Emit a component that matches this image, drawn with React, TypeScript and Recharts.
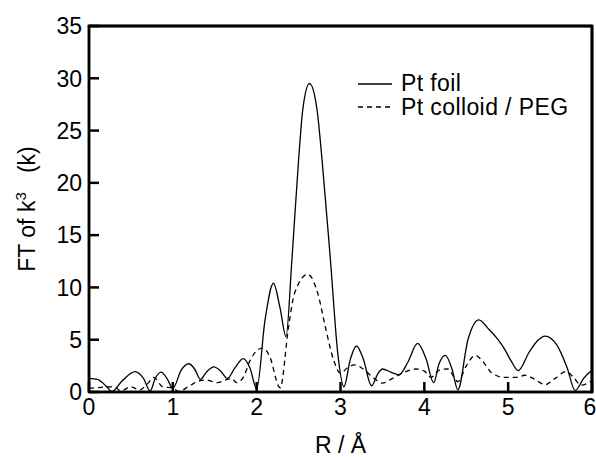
import { LineChart, Line, XAxis, YAxis, Legend, ReferenceLine, ReferenceArea } from 'recharts';

const FONT = '"Liberation Sans", Arial, Helvetica, sans-serif';

const xTicks = [0, 1, 2, 3, 4, 5, 6];
const yTicks = [0, 5, 10, 15, 20, 25, 30, 35];
const seriesNames = ['Pt foil', 'Pt colloid / PEG'];

// [R (Å), FT magnitude]
const foil: [number, number][] = [
  [0, 1.3], [0.1, 1.2], [0.2, 0.6], [0.27, 0.05], [0.4, 1.1], [0.55, 1.95],
  [0.65, 1.3], [0.73, 0.1], [0.79, 1.3], [0.86, 1.9], [0.93, 1.3], [1.0, 0.35],
  [1.1, 2.1], [1.19, 2.7], [1.26, 2.2], [1.33, 1.2], [1.4, 1.9], [1.49, 2.4],
  [1.57, 2.0], [1.65, 1.3], [1.74, 2.3], [1.84, 3.2], [1.92, 2.3], [2.0, 0.3],
  [2.1, 6.9], [2.2, 10.4], [2.28, 8.0], [2.35, 5.3], [2.42, 12.6], [2.5, 22.2],
  [2.55, 27], [2.63, 29.5], [2.72, 27], [2.78, 22.2], [2.88, 12.6], [2.97, 3.5],
  [3.04, 0.5], [3.12, 3.2], [3.19, 4.4], [3.27, 3.2], [3.37, 0.6], [3.45, 1.8],
  [3.5, 2.2], [3.6, 1.9], [3.7, 1.65], [3.8, 2.8], [3.92, 4.65], [4.02, 3.2],
  [4.11, 0.9], [4.18, 2.8], [4.25, 3.5], [4.33, 2.2], [4.4, 0.2], [4.52, 5.0],
  [4.65, 6.9], [4.77, 6.0], [4.87, 5.1], [4.95, 4.2], [5.03, 3.05], [5.12, 2.05],
  [5.25, 3.8], [5.35, 4.9], [5.44, 5.35], [5.58, 4.5], [5.7, 2.4], [5.8, 0.15],
  [5.9, 1.3], [6.0, 2.1],
];

const colloid: [number, number][] = [
  [0, 0.35], [0.15, 0.45], [0.3, 0.5], [0.38, 0.1], [0.5, 0.5], [0.6, 0.2],
  [0.7, 0.8], [0.77, 1.4], [0.88, 0.5], [1.0, 0.4], [1.07, 0.05], [1.2, 0.6],
  [1.33, 1.1], [1.4, 1.15], [1.53, 0.9], [1.65, 1.2], [1.7, 1.3], [1.76, 0.9],
  [1.84, 1.4], [1.92, 3.0], [2.07, 4.2], [2.15, 3.5], [2.28, 0.4], [2.38, 6.2],
  [2.45, 9.4], [2.61, 11.25], [2.73, 9.4], [2.82, 6.2], [2.92, 3.0], [3.0, 1.8],
  [3.08, 2.3], [3.17, 2.6], [3.27, 2.2], [3.4, 1.3], [3.5, 0.85], [3.62, 1.3],
  [3.75, 1.85], [3.9, 2.2], [4.0, 2.0], [4.08, 1.4], [4.18, 2.1], [4.28, 2.2],
  [4.4, 1.0], [4.5, 2.5], [4.61, 3.5], [4.7, 2.9], [4.8, 1.85], [4.95, 1.4],
  [5.1, 1.4], [5.2, 1.6], [5.32, 1.2], [5.44, 0.7], [5.56, 1.3], [5.69, 1.95],
  [5.78, 1.4], [5.87, 0.65], [6.0, 1.1],
];

const foilData = foil.map(([r, v]) => ({ r, v }));
const colloidData = colloid.map(([r, v]) => ({ r, v }));

const CHART_W = 596;
const CHART_H = 457;
const MARGIN = { top: 26, right: 4, left: 0, bottom: 0 };
const Y_AXIS_W = 89;
const TICK_GAP = 7;
const TICK_LEN = 10;
const AXIS_W = 2.5;
const TICK_FONT = 23;

const YTick = (props: any) => {
  const x = Number(props.x);
  const y = Number(props.y);
  const ax = x + TICK_GAP;
  return (
    <g>
      <path d={`M${ax},${y}H${ax + TICK_LEN}`} stroke="#000" strokeWidth={AXIS_W} fill="none" />
      <text x={x} y={y} dy="0.36em" textAnchor="end" fontSize={TICK_FONT} fontFamily={FONT} fill="#000">
        {props.payload.value}
      </text>
    </g>
  );
};

const XTick = (props: any) => {
  const x = Number(props.x);
  const y = Number(props.y);
  const ay = y - TICK_GAP;
  const last = props.payload.value === xTicks[xTicks.length - 1];
  return (
    <g>
      <path d={`M${x},${ay}V${ay - TICK_LEN}`} stroke="#000" strokeWidth={AXIS_W} fill="none" />
      <text
        x={last ? x - 2 : x}
        y={y}
        dy="0.7em"
        textAnchor="middle"
        fontSize={TICK_FONT}
        fontFamily={FONT}
        fill="#000"
      >
        {props.payload.value}
      </text>
    </g>
  );
};

// y-axis title; its viewBox also gives the plot's top and height, used to close the frame
const YLabel = (props: any) => {
  const vb = props.viewBox || {};
  const top = Number(vb.y ?? MARGIN.top);
  const h = Number(vb.height ?? 366);
  const left = Number(vb.x ?? 0) + Number(vb.width ?? Y_AXIS_W);
  const right = CHART_W - MARGIN.right;
  const cx = Number(vb.x ?? 0) + 27;
  const cy = top + h / 2;
  return (
    <g>
      <path
        d={`M${left},${top}H${right}V${top + h}`}
        stroke="#000"
        strokeWidth={AXIS_W}
        fill="none"
        strokeLinecap="square"
      />
      <text
        x={cx}
        y={cy}
        transform={`rotate(-90, ${cx}, ${cy})`}
        textAnchor="middle"
        dy="0.36em"
        fontSize={23}
        fontFamily={FONT}
        fill="#000"
      >
        FT of k
        <tspan fontSize={15} dy={-9}>3</tspan>
        <tspan dy={9}>{'\u00a0\u00a0\u00a0(k)'}</tspan>
      </text>
    </g>
  );
};

const XLabel = (props: any) => {
  const vb = props.viewBox;
  return (
    <text
      x={vb.x + vb.width / 2}
      y={vb.y + 61}
      textAnchor="middle"
      fontSize={23}
      fontFamily={FONT}
      fill="#000"
    >
      R / Å
    </text>
  );
};

const LegendBox = () => (
  <div style={{ fontFamily: FONT, fontSize: 23, lineHeight: '23px', letterSpacing: 0.4, color: '#000' }}>
    {seriesNames.map((name, i) => (
      <div key={name} style={{ display: 'flex', alignItems: 'center', height: 23.5, whiteSpace: 'nowrap' }}>
        <svg width={34} height={4}>
          <line
            x1={0}
            y1={2}
            x2={34}
            y2={2}
            stroke="#000"
            strokeWidth={1.3}
            strokeDasharray={i === 0 ? undefined : '5 4'}
          />
        </svg>
        <span style={{ marginLeft: 9 }}>{name}</span>
      </div>
    ))}
  </div>
);

export default function App() {
  return (
    <div style={{ position: 'absolute', left: 0, top: 0, background: '#fff' }}>
      <LineChart width={CHART_W} height={CHART_H} margin={MARGIN}>
        <XAxis
          dataKey="r"
          type="number"
          domain={[0, 6]}
          ticks={xTicks}
          interval={0}
          height={65}
          tickSize={0}
          tickMargin={TICK_GAP}
          tick={<XTick />}
          tickLine={false}
          axisLine={{ stroke: '#000', strokeWidth: AXIS_W }}
          label={<XLabel />}
        />
        <YAxis
          type="number"
          domain={[0, 35]}
          ticks={yTicks}
          interval={0}
          width={Y_AXIS_W}
          tickSize={0}
          tickMargin={TICK_GAP}
          tick={<YTick />}
          tickLine={false}
          axisLine={{ stroke: '#000', strokeWidth: AXIS_W }}
          label={<YLabel />}
        />
        <ReferenceArea
          x1={0}
          x2={6}
          y1={0}
          y2={35}
          ifOverflow="visible"
          fill="none"
          stroke="#000"
          strokeWidth={AXIS_W}
        />
        <ReferenceLine y={35} ifOverflow="visible" stroke="#000" strokeWidth={AXIS_W} />
        <ReferenceLine x={6} ifOverflow="visible" stroke="#000" strokeWidth={AXIS_W} />
        <Legend
          layout="vertical"
          align="center"
          verticalAlign="middle"
          content={<LegendBox />}
          wrapperStyle={{ left: 358, top: 72, width: 'auto', height: 'auto' }}
        />
        <Line
          data={foilData}
          dataKey="v"
          name={seriesNames[0]}
          type="monotone"
          stroke="#000"
          strokeWidth={1.3}
          dot={false}
          activeDot={false}
          isAnimationActive={false}
        />
        <Line
          data={colloidData}
          dataKey="v"
          name={seriesNames[1]}
          type="monotone"
          stroke="#000"
          strokeWidth={1.3}
          strokeDasharray="5 4"
          dot={false}
          activeDot={false}
          isAnimationActive={false}
        />
      </LineChart>
    </div>
  );
}
